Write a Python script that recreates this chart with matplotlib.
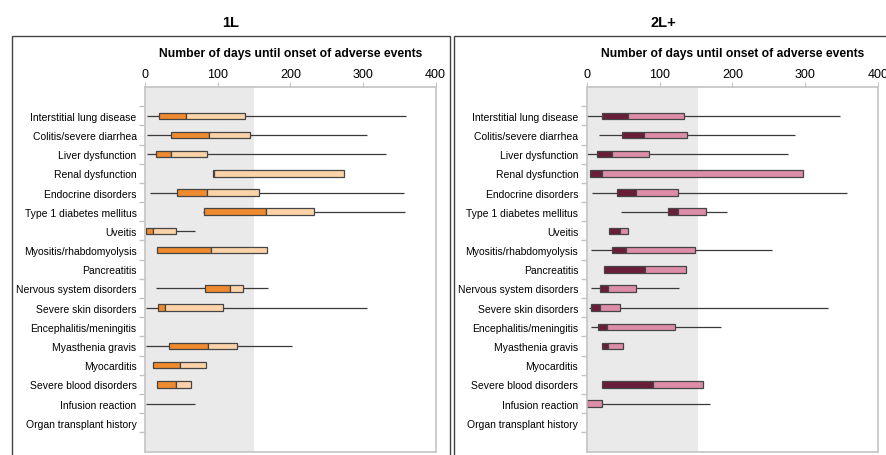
import matplotlib
matplotlib.use("Agg")
import matplotlib.pyplot as plt
from matplotlib.patches import Rectangle
import numpy as np

plt.rcParams['font.family'] = ['Liberation Sans', 'DejaVu Sans']

categories = ["Interstitial lung disease", "Colitis/severe diarrhea", "Liver dysfunction",
              "Renal dysfunction", "Endocrine disorders", "Type 1 diabetes mellitus",
              "Uveitis", "Myositis/rhabdomyolysis", "Pancreatitis", "Nervous system disorders",
              "Severe skin disorders", "Encephalitis/meningitis", "Myasthenia gravis",
              "Myocarditis", "Severe blood disorders", "Infusion reaction",
              "Organ transplant history"]

N = None
# 1L panel: whisker low, Q1, median, Q3, whisker high (days)
l1_lo  = [2, 2, 2, 93, 7, 80, 1, N, N, 15, 1, N, 1, N, N, 1, N]
l1_q1  = [19, 35, 15, 94, 44, 81, 1, 16, N, 82, 17, N, 33, 11, 16, N, N]
l1_med = [56, 88, 35, 95, 85, 166, 10, 91, N, 117, 27, N, 87, 48, 42, N, N]
l1_q3  = [137, 145, 85, 274, 157, 232, 43, 168, N, 134, 107, N, 126, 84, 63, N, N]
l1_hi  = [359, 306, 332, 274, 357, 358, 69, N, N, 169, 305, N, 202, N, N, 68, N]

# 2L+ panel
l2_lo  = [0, 17, 0, N, 7, 47, N, 6, N, 6, 3, 6, N, N, N, 0, N]
l2_q1  = [21, 48, 14, 4, 41, 111, 30, 34, 23, 18, 6, 15, 21, N, 21, 0, N]
l2_med = [56, 78, 35, 20, 67, 125, 46, 54, 80, 29, 18, 27, 29, N, 91, 0, N]
l2_q3  = [133, 137, 85, 297, 125, 164, 56, 149, 136, 67, 46, 121, 49, N, 159, 21, N]
l2_hi  = [348, 286, 276, N, 358, 192, N, 255, N, 127, 331, 185, N, N, N, 169, N]

titles = ["1L", "2L+"]
xlabel = "Number of days until onset of adverse events"
xticks = [0, 100, 200, 300, 400]
shade_end = [150, 153]

W, H = 886, 456
fig = plt.figure(figsize=(W / 100, H / 100), dpi=100)

def fx(px):
    return px / W

def fy(py):
    return 1 - py / H

panels = [
    dict(data=(l1_lo, l1_q1, l1_med, l1_q3, l1_hi), dark="#EF8A2E", light="#FCD3A9",
         ax_l=145.3, ax_r=435.5, border=(12, 449.7), title_x=231),
    dict(data=(l2_lo, l2_q1, l2_med, l2_q3, l2_hi), dark="#6A1D39", light="#DE8DA9",
         ax_l=587.0, ax_r=877.7, border=(454, 900), title_x=663),
]

ax_top, ax_bot = 88.0, 452.5
gridc = "#C4C4C4"
edgec = "#454545"

for k, p in enumerate(panels):
    # panel border
    bx0, bx1 = p["border"]
    fig.patches.append(Rectangle((fx(bx0), fy(470)), fx(bx1 - bx0), (470 - 36.5) / H,
                                 transform=fig.transFigure, fill=False,
                                 edgecolor="#444444", linewidth=1.0, zorder=0))
    fig.text(fx(p["title_x"]), fy(23), titles[k], ha="center", va="center",
             fontsize=10.5, fontweight="bold")

    ax = fig.add_axes([fx(p["ax_l"]), fy(ax_bot), fx(p["ax_r"] - p["ax_l"]),
                       (ax_bot - ax_top) / H])
    lo, q1, med, q3, hi = p["data"]
    n = len(categories)
    y = np.arange(n)
    ax.axvspan(0, shade_end[k], color="#EAEAEA", zorder=0, lw=0)
    bh = 0.34
    for i in range(n):
        if lo[i] is not None and hi[i] is not None:
            ax.hlines(y[i], lo[i], hi[i], color="#3A3A3A", lw=0.9, zorder=1)
        if q1[i] is not None:
            if med[i] > q1[i]:
                ax.barh(y[i], med[i] - q1[i], left=q1[i], height=bh, color=p["dark"],
                        edgecolor=edgec, linewidth=0.9, zorder=2)
            ax.barh(y[i], q3[i] - med[i], left=med[i], height=bh, color=p["light"],
                    edgecolor=edgec, linewidth=0.9, zorder=2)

    ax.set_xlim(0, 400)
    ax.set_ylim(n + 0.5, -1.5)
    ax.xaxis.tick_top()
    ax.xaxis.set_label_position("top")
    ax.set_xticks(xticks)
    ax.set_xticklabels([str(t) for t in xticks], fontsize=9)
    ax.tick_params(axis="x", length=3.5, color=gridc, pad=1.3)
    ax.set_xlabel(xlabel, fontsize=8.7, fontweight="bold", labelpad=9)
    ax.set_yticks(y)
    ax.set_yticklabels(categories, fontsize=7.5)
    ax.tick_params(axis="y", which="major", length=0, pad=6.3)
    ax.set_yticks(np.arange(-0.5, n, 1.0), minor=True)
    ax.tick_params(axis="y", which="minor", length=4, color=gridc, width=1)
    for s in ax.spines.values():
        s.set_color(gridc)
        s.set_linewidth(1.2)

fig.savefig("out.png", dpi=100)
